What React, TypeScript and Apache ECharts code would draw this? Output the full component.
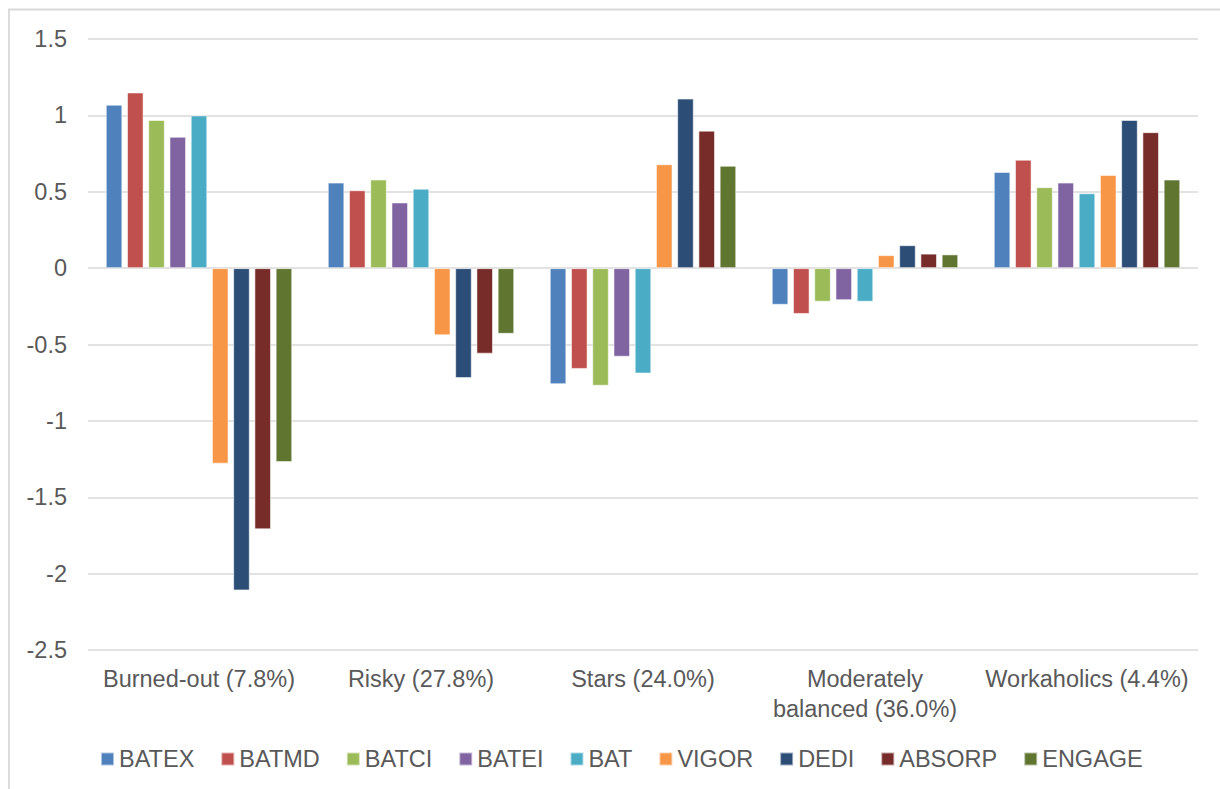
import React, { useEffect, useRef } from "react";
import * as echarts from "echarts";

const categories = [
  "Burned-out (7.8%)",
  "Risky (27.8%)",
  "Stars (24.0%)",
  "Moderately balanced (36.0%)",
  "Workaholics (4.4%)",
];

const seriesNames = ["BATEX", "BATMD", "BATCI", "BATEI", "BAT", "VIGOR", "DEDI", "ABSORP", "ENGAGE"];
const colors = ["#4F81BD", "#C0504D", "#9BBB59", "#8064A2", "#4BACC6", "#F79646", "#2C4D75", "#772C2A", "#5F7530"];

const BATEX = [1.07, 0.56, -0.76, -0.24, 0.63];
const BATMD = [1.15, 0.51, -0.66, -0.3, 0.71];
const BATCI = [0.97, 0.58, -0.77, -0.22, 0.53];
const BATEI = [0.86, 0.43, -0.58, -0.21, 0.56];
const BAT = [1.0, 0.52, -0.69, -0.22, 0.49];
const VIGOR = [-1.28, -0.44, 0.68, 0.085, 0.61];
const DEDI = [-2.11, -0.72, 1.11, 0.15, 0.97];
const ABSORP = [-1.71, -0.56, 0.9, 0.095, 0.89];
const ENGAGE = [-1.27, -0.43, 0.67, 0.09, 0.58];

const seriesData = [BATEX, BATMD, BATCI, BATEI, BAT, VIGOR, DEDI, ABSORP, ENGAGE];

const yMin = -2.5;
const yMax = 1.5;
const yStep = 0.5;

const FONT = "'Liberation Sans', Arial, sans-serif";

export default function App() {
  const ref = useRef<HTMLDivElement>(null);

  useEffect(() => {
    if (!ref.current) return;
    const chart = echarts.init(ref.current, undefined, { renderer: "svg" });
    chart.setOption({
      animation: false,
      backgroundColor: "#ffffff",
      color: colors,
      graphic: [
        {
          type: "rect",
          shape: { x: 9, y: 9.5, width: 1400, height: 900 },
          style: { fill: "none", stroke: "#d9d9d9", lineWidth: 1.8 },
          silent: true,
          z: -1,
        },
      ],
      grid: { left: 88, right: 22, top: 39, bottom: 139, containLabel: false },
      legend: {
        data: seriesNames,
        left: 95,
        top: 742,
        itemWidth: 13,
        itemHeight: 13,
        itemGap: 26,
        icon: "rect",
        textStyle: { fontFamily: FONT, fontSize: 23.5, color: "#595959" },
      },
      xAxis: {
        type: "category",
        data: categories,
        position: "bottom",
        axisLine: { show: false },
        axisTick: { show: false },
        axisLabel: {
          interval: 0,
          margin: 14,
          fontFamily: FONT,
          fontSize: 23.5,
          lineHeight: 30,
          color: "#595959",
          formatter: (v: string) => (v === "Moderately balanced (36.0%)" ? "Moderately\nbalanced (36.0%)" : v),
        },
        splitLine: { show: false },
      },
      yAxis: {
        type: "value",
        min: yMin,
        max: yMax,
        interval: yStep,
        axisLine: { show: false },
        axisTick: { show: false },
        axisLabel: { margin: 21, fontFamily: FONT, fontSize: 23.5, color: "#595959" },
        splitLine: { lineStyle: { color: "#d9d9d9", width: 1.5 } },
      },
      series: seriesNames.map((name, i) => ({
        name,
        type: "bar",
        data: seriesData[i],
        barGap: "28%",
        barCategoryGap: "16%",
        itemStyle: { color: colors[i], borderColor: "rgba(255,255,255,0.55)", borderWidth: 1 },
      })),
    });
    return () => chart.dispose();
  }, []);

  return (
    <div
      ref={ref}
      style={{ position: "absolute", left: 0, top: 0, width: 1220, height: 789 }}
    />
  );
}
